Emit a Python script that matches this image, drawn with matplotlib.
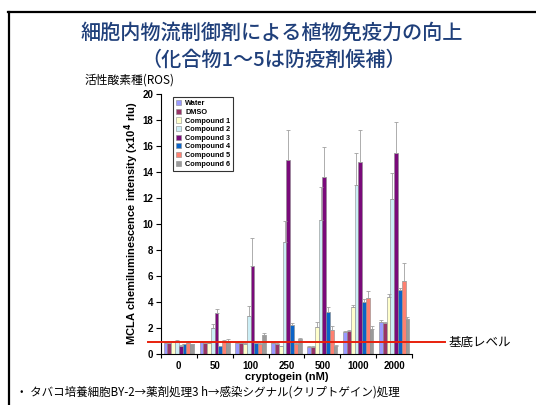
import numpy as np
import matplotlib
matplotlib.use("Agg")
import matplotlib.pyplot as plt
from matplotlib.lines import Line2D
import matplotlib.transforms as mtransforms

# data
doses = ['0', '50', '100', '250', '500', '1000', '2000']
series = ['Water', 'DMSO', 'Compound 1', 'Compound 2',
          'Compound 3', 'Compound 4', 'Compound 5', 'Compound 6']

water = [0.85, 0.9, 0.85, 0.8, 0.5, 1.65, 2.45]
dmso = [0.85, 0.8, 0.8, 0.75, 0.5, 1.75, 2.35]
comp1 = [0.9, 0.8, 0.75, 0.55, 2.05, 3.6, 4.35]
comp2 = [1.0, 1.95, 2.9, 8.6, 10.3, 13.0, 11.9]
comp3 = [0.6, 3.1, 6.7, 14.9, 13.6, 14.7, 15.4]
comp4 = [0.72, 0.55, 0.8, 2.2, 3.2, 4.0, 4.9]
comp5 = [0.85, 0.95, 0.75, 0.75, 1.85, 4.25, 5.6]
comp6 = [0.72, 1.0, 1.4, 1.1, 0.6, 1.9, 2.65]

water_err = [0.05, 0.05, 0.05, 0.05, 0.05, 0.1, 0.15]
dmso_err = [0.05, 0.05, 0.05, 0.05, 0.05, 0.1, 0.1]
comp1_err = [0.05, 0.05, 0.1, 0.05, 0.35, 0.1, 0.2]
comp2_err = [0.05, 0.3, 0.75, 1.6, 2.5, 2.4, 2.0]
comp3_err = [0.05, 0.3, 2.2, 2.3, 2.3, 2.5, 2.4]
comp4_err = [0.05, 0.05, 0.05, 0.15, 0.4, 0.2, 0.15]
comp5_err = [0.1, 0.1, 0.05, 0.1, 0.25, 0.6, 1.4]
comp6_err = [0.05, 0.1, 0.15, 0.1, 0.05, 0.2, 0.2]

baseline = 0.88

values = [water, dmso, comp1, comp2, comp3, comp4, comp5, comp6]
errors = [water_err, dmso_err, comp1_err, comp2_err,
          comp3_err, comp4_err, comp5_err, comp6_err]
colors = ['#9999ff', '#993366', '#ffffcc', '#cceef6',
          '#7a0a7a', '#0a64c8', '#ff8070', '#9a9a9a']

jp = ['Noto Sans CJK JP', 'DejaVu Sans']
plt.rcParams['font.family'] = ['Liberation Sans', 'DejaVu Sans']

fig = plt.figure(figsize=(5.36, 4.05), dpi=100)
ax = fig.add_axes([0.300, 0.127, 0.469, 0.642])

x = np.arange(len(doses))
w = 0.105
for i in range(len(series)):
    pos = x + (i - 3.5) * w
    ax.bar(pos, values[i], width=w, color=colors[i], edgecolor='#8c8c8c',
           linewidth=0.4, label=series[i], zorder=2)
    ax.errorbar(pos, values[i], yerr=[np.zeros(len(doses)), errors[i]],
                fmt='none', ecolor='#a0a0a0', elinewidth=0.6, capsize=1.2,
                capthick=0.6, zorder=3)

ax.set_xlim(-0.47, 6.47)
ax.set_ylim(0, 20)
ax.set_yticks(range(0, 21, 2))
ax.set_xticks(x)
ax.set_xticklabels(doses, fontweight='bold', fontsize=7)
ax.set_xticks(np.arange(-0.5, 7, 1), minor=True)
ax.tick_params(axis='x', which='major', length=0, pad=5)
ax.tick_params(axis='x', which='minor', length=3, width=0.8, direction='out')
ax.tick_params(axis='y', length=3.5, width=0.8, labelsize=7, pad=2)
for lab in ax.get_yticklabels():
    lab.set_fontweight('bold')
ax.spines['top'].set_visible(False)
ax.spines['right'].set_visible(False)
ax.spines['left'].set_linewidth(0.8)
ax.spines['bottom'].set_linewidth(0.8)

ax.set_ylabel('MCLA chemiluminescence intensity (x10$^{\\mathbf{4}}$ rlu)',
              fontweight='bold', fontsize=8, labelpad=1)
ax.set_xlabel('cryptogein (nM)', fontweight='bold', fontsize=8, labelpad=1)

leg = ax.legend(loc='upper left', bbox_to_anchor=(0.035, 1.0),
                prop={'weight': 'bold', 'size': 5.3}, handlelength=0.7,
                handleheight=0.7, handletextpad=0.5, labelspacing=0.2,
                borderpad=0.4, frameon=True, fancybox=False)
leg.get_frame().set_edgecolor('black')
leg.get_frame().set_linewidth(0.8)

# baseline level line
trans = mtransforms.blended_transform_factory(ax.transAxes, ax.transData)
ax.plot([-0.052, 1.13], [baseline, baseline], color='#e8200c', lw=1.4,
        transform=trans, clip_on=False, zorder=4)
ax.text(1.145, baseline, '基底レベル', transform=trans, va='center', ha='left',
        fontsize=9, family=jp)

# titles and notes
fig.text(0.506, 0.918, '細胞内物流制御剤による植物免疫力の向上', ha='center',
         va='center', fontsize=14.5, color='#1f3f7a', family=jp,
         fontweight='medium')
fig.text(0.510, 0.852, '（化合物1～5は防疫剤候補）', ha='center', va='center',
         fontsize=14.5, color='#1f3f7a', family=jp, fontweight='medium')
fig.text(0.157, 0.802, '活性酸素種(ROS)', ha='left', va='center', fontsize=8.5,
         family=jp)
fig.text(0.030, 0.032, '・ タバコ培養細胞BY-2→薬剤処理3 h→感染シグナル(クリプトゲイン)処理',
         ha='left', va='center', fontsize=8.3, family=jp)

# slide border
fig.add_artist(Line2D([0.016, 0.016], [0.0, 0.971], color='black', lw=1.6))
fig.add_artist(Line2D([0.015, 1.0], [0.971, 0.971], color='black', lw=1.6))

fig.savefig('out.png', dpi=100)
